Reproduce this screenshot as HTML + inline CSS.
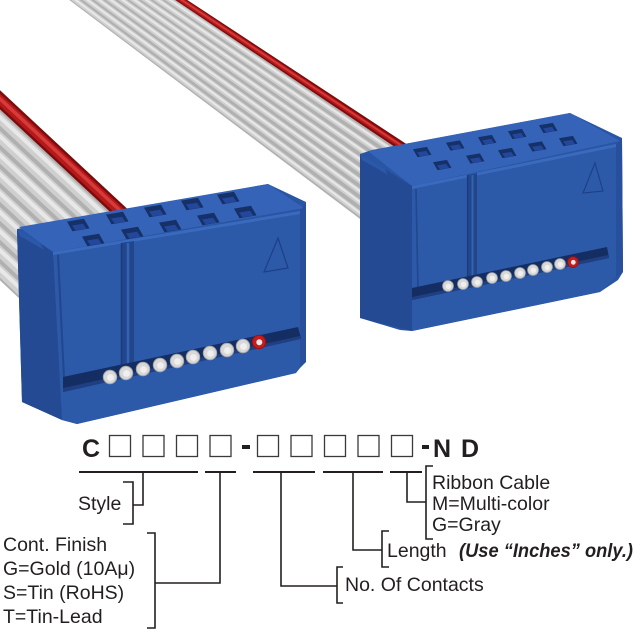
<!DOCTYPE html>
<html><head><meta charset="utf-8"><style>
html,body{margin:0;padding:0;background:#fff;}
svg{display:block;}
text{font-family:"Liberation Sans",Arial,sans-serif;fill:#231f20;}
</style></head><body>
<svg width="640" height="640" viewBox="0 0 640 640" xmlns="http://www.w3.org/2000/svg">
<defs>
  <g id="hL">
    <polygon points="-11,-3.4 6,-6.2 11.5,3.4 -5.5,6.2" fill="#163068"/>
    <polygon points="-6,0.5 5,-1.3 8.5,3.6 -2.5,5.4" fill="#23479a"/>
  </g>
</defs>
<rect width="640" height="640" fill="#fff"/>

<!-- ===== TOP CABLE ===== -->
<polygon points="172,-10 420,153 380,234 56,-10" fill="#b0b0b0"/>
<polygon points="172,-10 420,153 416,161.1 160.4,-10" fill="#7d0b0b"/>
<g stroke-linecap="butt">
  <line x1="166.2" y1="-10" x2="418" y2="157.05" stroke="#b51a1a" stroke-width="4.5"/>
  <line x1="166.6" y1="-10" x2="418.2" y2="156.6" stroke="#d63a3a" stroke-width="1.8"/>
  <g stroke="#cfcfcf" stroke-width="5">
    <line x1="154.6" y1="-10" x2="414" y2="165.15"/>
    <line x1="143" y1="-10" x2="410" y2="173.25"/>
    <line x1="131.4" y1="-10" x2="406" y2="181.35"/>
    <line x1="119.8" y1="-10" x2="402" y2="189.45"/>
    <line x1="108.2" y1="-10" x2="398" y2="197.55"/>
    <line x1="96.6" y1="-10" x2="394" y2="205.65"/>
    <line x1="85" y1="-10" x2="390" y2="213.75"/>
    <line x1="73.4" y1="-10" x2="386" y2="221.85"/>
    <line x1="61.8" y1="-10" x2="382" y2="229.95"/>
  </g>
  <g stroke="#e8e8e8" stroke-width="2">
    <line x1="155.2" y1="-10" x2="414.2" y2="164.7"/>
    <line x1="143.6" y1="-10" x2="410.2" y2="172.8"/>
    <line x1="132" y1="-10" x2="406.2" y2="180.9"/>
    <line x1="120.4" y1="-10" x2="402.2" y2="189"/>
    <line x1="108.8" y1="-10" x2="398.2" y2="197.1"/>
    <line x1="97.2" y1="-10" x2="394.2" y2="205.2"/>
    <line x1="85.6" y1="-10" x2="390.2" y2="213.3"/>
    <line x1="74" y1="-10" x2="386.2" y2="221.4"/>
    <line x1="62.4" y1="-10" x2="382.2" y2="229.5"/>
  </g>
</g>

<!-- ===== LEFT CABLE ===== -->
<polygon points="-10,81 135,216 40,318 -10,271" fill="#b0b0b0"/>
<polygon points="-10,81 135,216 125.5,226.2 -10,100" fill="#7d0b0b"/>
<g>
  <line x1="-10" y1="90.5" x2="130.25" y2="221.1" stroke="#b51a1a" stroke-width="9"/>
  <line x1="-10" y1="89.5" x2="130.7" y2="220.4" stroke="#d63a3a" stroke-width="3.5"/>
  <g stroke="#cfcfcf" stroke-width="10">
    <line x1="-10" y1="109.5" x2="120.75" y2="231.3"/>
    <line x1="-10" y1="128.5" x2="111.25" y2="241.5"/>
    <line x1="-10" y1="147.5" x2="101.75" y2="251.7"/>
    <line x1="-10" y1="166.5" x2="92.25" y2="261.9"/>
    <line x1="-10" y1="185.5" x2="82.75" y2="272.1"/>
    <line x1="-10" y1="204.5" x2="73.25" y2="282.3"/>
    <line x1="-10" y1="223.5" x2="63.75" y2="292.5"/>
    <line x1="-10" y1="242.5" x2="54.25" y2="302.7"/>
    <line x1="-10" y1="261.5" x2="44.75" y2="312.9"/>
  </g>
  <g stroke="#e8e8e8" stroke-width="4">
    <line x1="-10" y1="108" x2="121.4" y2="230.2"/>
    <line x1="-10" y1="127" x2="111.9" y2="240.4"/>
    <line x1="-10" y1="146" x2="102.4" y2="250.6"/>
    <line x1="-10" y1="165" x2="92.9" y2="260.8"/>
    <line x1="-10" y1="184" x2="83.4" y2="271"/>
    <line x1="-10" y1="203" x2="73.9" y2="281.2"/>
    <line x1="-10" y1="222" x2="64.4" y2="291.4"/>
    <line x1="-10" y1="241" x2="54.9" y2="301.6"/>
    <line x1="-10" y1="260" x2="45.4" y2="311.8"/>
  </g>
</g>

<!-- ===== LEFT CONNECTOR ===== -->
<g>
  <polygon points="17,229 268,184 306,202 306,362 300,368 296,373 77,424 62,420 22,402" fill="#2a55a3"/>
  <polygon points="19,227 268,184 304,208 53,252" fill="#3463b8"/>
  <polygon points="17,229 53,252 62,420 22,402" fill="#234a93"/>
  <polygon points="17,229 40,243 44,250 20,236" fill="#2b58a8"/>
  <polygon points="53,252 300,211 300,365 296,373 77,424 62,420" fill="#2c59a8"/>
  <polygon points="300,211 306,203 306,362 300,366" fill="#284f9b"/>
  <polygon points="53,252 300,211 300,214 53,255" fill="#3a6abd"/>
  <line x1="58" y1="255" x2="64" y2="378" stroke="#22478e" stroke-width="2"/>
  <polygon points="121,243 134,241 134,366 121,369" fill="#22468c"/>
  <line x1="128" y1="243" x2="128" y2="367" stroke="#3463b3" stroke-width="2.5"/>
  <line x1="121.5" y1="243" x2="121.5" y2="369" stroke="#1b3b7a" stroke-width="1.5"/>
  <use href="#hL" x="78" y="225"/>
  <use href="#hL" x="117" y="218"/>
  <use href="#hL" x="155" y="211"/>
  <use href="#hL" x="192" y="204"/>
  <use href="#hL" x="228" y="198"/>
  <use href="#hL" x="93" y="240"/>
  <use href="#hL" x="132" y="233"/>
  <use href="#hL" x="170" y="226"/>
  <use href="#hL" x="208" y="219"/>
  <use href="#hL" x="245" y="212"/>
  <polygon points="278,238 264,272 288,268" fill="none" stroke="#1d3f85" stroke-width="1.2"/>
  <polygon points="63,377 298,327 301,338 63,392" fill="#142d62"/>
  <polygon points="63,388 300,336 301,339 63,392" fill="#1f3f80"/>
  <g>
    <circle cx="110" cy="377" r="7.2" fill="#a9a9a9"/><circle cx="110" cy="377" r="6.2" fill="#d8d8d8"/><circle cx="110.5" cy="377.5" r="3.4" fill="#efefef"/>
    <circle cx="126" cy="373" r="7.2" fill="#a9a9a9"/><circle cx="126" cy="373" r="6.2" fill="#d8d8d8"/><circle cx="126.5" cy="373.5" r="3.4" fill="#efefef"/>
    <circle cx="143" cy="369" r="7.2" fill="#a9a9a9"/><circle cx="143" cy="369" r="6.2" fill="#d8d8d8"/><circle cx="143.5" cy="369.5" r="3.4" fill="#efefef"/>
    <circle cx="160" cy="365" r="7.2" fill="#a9a9a9"/><circle cx="160" cy="365" r="6.2" fill="#d8d8d8"/><circle cx="160.5" cy="365.5" r="3.4" fill="#efefef"/>
    <circle cx="177" cy="361" r="7.2" fill="#a9a9a9"/><circle cx="177" cy="361" r="6.2" fill="#d8d8d8"/><circle cx="177.5" cy="361.5" r="3.4" fill="#efefef"/>
    <circle cx="193" cy="357" r="7.2" fill="#a9a9a9"/><circle cx="193" cy="357" r="6.2" fill="#d8d8d8"/><circle cx="193.5" cy="357.5" r="3.4" fill="#efefef"/>
    <circle cx="210" cy="353" r="7.2" fill="#a9a9a9"/><circle cx="210" cy="353" r="6.2" fill="#d8d8d8"/><circle cx="210.5" cy="353.5" r="3.4" fill="#efefef"/>
    <circle cx="227" cy="350" r="7.2" fill="#a9a9a9"/><circle cx="227" cy="350" r="6.2" fill="#d8d8d8"/><circle cx="227.5" cy="350.5" r="3.4" fill="#efefef"/>
    <circle cx="243" cy="346" r="7.2" fill="#a9a9a9"/><circle cx="243" cy="346" r="6.2" fill="#d8d8d8"/><circle cx="243.5" cy="346.5" r="3.4" fill="#efefef"/>
    <circle cx="259" cy="342" r="7.2" fill="#9c1010"/><circle cx="259" cy="342" r="6.2" fill="#c41d1d"/><circle cx="259.3" cy="342.3" r="3" fill="#e8e8e8"/>
  </g>
</g>

<!-- ===== RIGHT CONNECTOR ===== -->
<g>
  <polygon points="360,154 372,150 570,113 622,138 623,272 618,280 600,292 412,331 400,330 360,318" fill="#2a55a3"/>
  <polygon points="368,151 570,113 620,141 412,186" fill="#3463b8"/>
  <polygon points="360,154 412,186 412,331 360,318" fill="#234a93"/>
  <polygon points="360,154 385,169 388,175 362,160" fill="#2b58a8"/>
  <polygon points="412,186 616,144 616,276 600,292 412,331" fill="#2c59a8"/>
  <polygon points="616,144 622,139 623,272 616,277" fill="#284f9b"/>
  <polygon points="412,186 616,144 616,147 412,189" fill="#3a6abd"/>
  <line x1="416" y1="189" x2="418" y2="290" stroke="#22478e" stroke-width="1.6"/>
  <polygon points="467,175 477,173 477,277 467,279" fill="#22468c"/>
  <line x1="472.5" y1="175" x2="472.5" y2="278" stroke="#3463b3" stroke-width="2"/>
  <line x1="467.5" y1="175" x2="467.5" y2="279" stroke="#1b3b7a" stroke-width="1.2"/>
  <use href="#hL" transform="translate(422,152) scale(0.82)"/>
  <use href="#hL" transform="translate(455,145.5) scale(0.82)"/>
  <use href="#hL" transform="translate(487,140) scale(0.82)"/>
  <use href="#hL" transform="translate(517,134) scale(0.82)"/>
  <use href="#hL" transform="translate(548,128) scale(0.82)"/>
  <use href="#hL" transform="translate(442,165) scale(0.82)"/>
  <use href="#hL" transform="translate(475,158.5) scale(0.82)"/>
  <use href="#hL" transform="translate(507,153) scale(0.82)"/>
  <use href="#hL" transform="translate(537,146.5) scale(0.82)"/>
  <use href="#hL" transform="translate(568,141) scale(0.82)"/>
  <polygon points="595,163 583,193 603,191" fill="none" stroke="#1d3f85" stroke-width="1.1"/>
  <polygon points="412,288 607,247 609,258 412,300" fill="#142d62"/>
  <polygon points="412,297 608,255 609,258 412,300" fill="#1f3f80"/>
  <g>
    <circle cx="448" cy="286" r="5.8" fill="#a9a9a9"/><circle cx="448" cy="286" r="5" fill="#d8d8d8"/><circle cx="448.4" cy="286.4" r="2.7" fill="#efefef"/>
    <circle cx="463" cy="284" r="5.8" fill="#a9a9a9"/><circle cx="463" cy="284" r="5" fill="#d8d8d8"/><circle cx="463.4" cy="284.4" r="2.7" fill="#efefef"/>
    <circle cx="477" cy="282" r="5.8" fill="#a9a9a9"/><circle cx="477" cy="282" r="5" fill="#d8d8d8"/><circle cx="477.4" cy="282.4" r="2.7" fill="#efefef"/>
    <circle cx="492" cy="278" r="5.8" fill="#a9a9a9"/><circle cx="492" cy="278" r="5" fill="#d8d8d8"/><circle cx="492.4" cy="278.4" r="2.7" fill="#efefef"/>
    <circle cx="506" cy="276" r="5.8" fill="#a9a9a9"/><circle cx="506" cy="276" r="5" fill="#d8d8d8"/><circle cx="506.4" cy="276.4" r="2.7" fill="#efefef"/>
    <circle cx="520" cy="273" r="5.8" fill="#a9a9a9"/><circle cx="520" cy="273" r="5" fill="#d8d8d8"/><circle cx="520.4" cy="273.4" r="2.7" fill="#efefef"/>
    <circle cx="533" cy="270" r="5.8" fill="#a9a9a9"/><circle cx="533" cy="270" r="5" fill="#d8d8d8"/><circle cx="533.4" cy="270.4" r="2.7" fill="#efefef"/>
    <circle cx="547" cy="267" r="5.8" fill="#a9a9a9"/><circle cx="547" cy="267" r="5" fill="#d8d8d8"/><circle cx="547.4" cy="267.4" r="2.7" fill="#efefef"/>
    <circle cx="560" cy="264" r="5.8" fill="#a9a9a9"/><circle cx="560" cy="264" r="5" fill="#d8d8d8"/><circle cx="560.4" cy="264.4" r="2.7" fill="#efefef"/>
    <circle cx="573" cy="262" r="5.8" fill="#9c1010"/><circle cx="573" cy="262" r="5" fill="#c41d1d"/><circle cx="573.3" cy="262.3" r="2.4" fill="#e8e8e8"/>
  </g>
</g>

<!-- ===== PART NUMBER ===== -->
<text x="82" y="457" font-size="25" font-weight="bold">C</text>
<g fill="none" stroke="#3a3a3a" stroke-width="1.3">
  <rect x="109.5" y="435.5" width="21" height="21"/>
  <rect x="143" y="435.5" width="21" height="21"/>
  <rect x="176.5" y="435.5" width="21" height="21"/>
  <rect x="210" y="435.5" width="21" height="21"/>
  <rect x="257.5" y="435.5" width="21" height="21"/>
  <rect x="291" y="435.5" width="21" height="21"/>
  <rect x="324.5" y="435.5" width="21" height="21"/>
  <rect x="358" y="435.5" width="21" height="21"/>
  <rect x="391.5" y="435.5" width="21" height="21"/>
</g>
<rect x="242" y="445" width="8" height="4" fill="#231f20"/>
<rect x="422" y="445" width="7" height="4" fill="#231f20"/>
<text x="433" y="457" font-size="25" font-weight="bold">N</text>
<text x="461" y="457" font-size="25" font-weight="bold">D</text>

<g stroke="#231f20" stroke-width="2">
  <line x1="79" y1="472" x2="198" y2="472"/>
  <line x1="205" y1="472" x2="236" y2="472"/>
  <line x1="253" y1="472" x2="315" y2="472"/>
  <line x1="323" y1="472" x2="383" y2="472"/>
  <line x1="390" y1="472" x2="422" y2="472"/>
</g>

<g fill="none" stroke="#231f20" stroke-width="1.6">
  <polyline points="143,472 143,505 133,505"/>
  <polyline points="123,482 133,482 133,524 123,524"/>
  <polyline points="220,472 220,583 155,583"/>
  <polyline points="147,533 155,533 155,628 147,628"/>
  <polyline points="281,472 281,586 337,586"/>
  <polyline points="343,567 337,567 337,603 343,603"/>
  <polyline points="353,472 353,550 382,550"/>
  <polyline points="389,531 382,531 382,567 389,567"/>
  <polyline points="407,472 407,502 426,502"/>
  <polyline points="433,466 426,466 426,539 433,539"/>
</g>

<g font-size="19.5">
  <text x="78" y="510">Style</text>
  <text x="3" y="551">Cont. Finish</text>
  <text x="3" y="575">G=Gold (10Aμ)</text>
  <text x="3" y="599">S=Tin (RoHS)</text>
  <text x="3" y="623">T=Tin-Lead</text>
  <text x="432" y="489">Ribbon Cable</text>
  <text x="432" y="510">M=Multi-color</text>
  <text x="432" y="531">G=Gray</text>
  <text x="387" y="557">Length</text>
  <text x="345" y="591">No. Of Contacts</text>
</g>
<text x="459" y="557" font-size="19" font-weight="bold" font-style="italic" textLength="174" lengthAdjust="spacingAndGlyphs">(Use “Inches” only.)</text>
</svg>
</body></html>
